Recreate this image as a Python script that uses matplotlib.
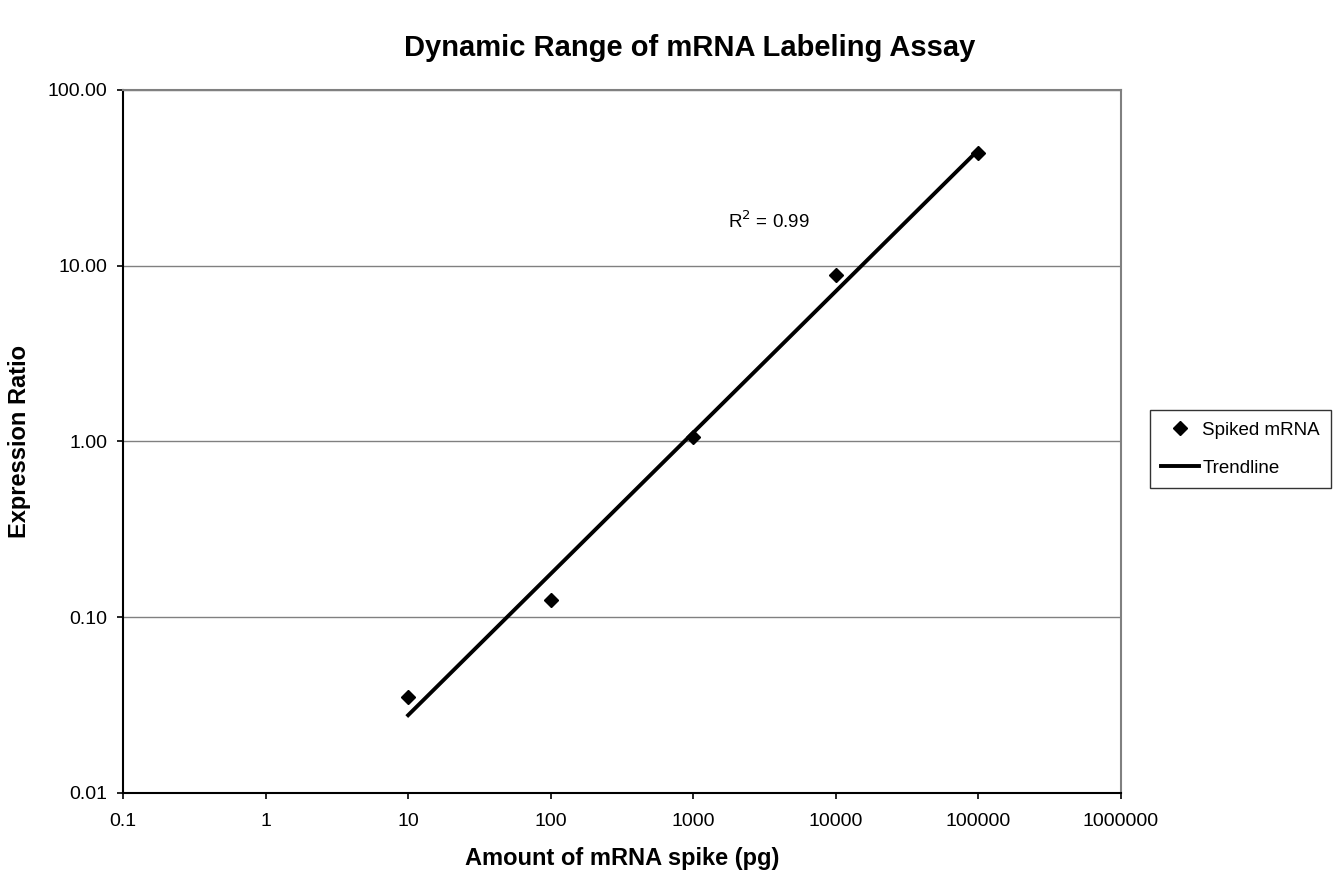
import numpy as np
import matplotlib.pyplot as plt
from matplotlib.ticker import FixedLocator, FixedFormatter, NullLocator

# Data
spike_pg = [10, 100, 1000, 10000, 100000]
expr_ratio = [0.035, 0.125, 1.06, 8.9, 43.5]

x_ticks = [0.1, 1, 10, 100, 1000, 10000, 100000, 1000000]
x_labels = ['0.1', '1', '10', '100', '1000', '10000', '100000', '1000000']
y_ticks = [0.01, 0.1, 1, 10, 100]
y_labels = ['0.01', '0.10', '1.00', '10.00', '100.00']

plt.rcParams['font.family'] = ['Liberation Sans', 'DejaVu Sans']

# Power-law trendline fitted in log space
lx = np.log10(spike_pg)
ly = np.log10(expr_ratio)
slope, intercept = np.polyfit(lx, ly, 1)
trend = 10 ** (intercept + slope * lx)

fig = plt.figure(figsize=(13.44, 8.8), dpi=100)
ax = fig.add_axes([0.0915, 0.0989, 0.7426, 0.7989])

ax.set_xscale('log')
ax.set_yscale('log')
ax.set_xlim(0.1, 1000000)
ax.set_ylim(0.01, 100)

ax.plot(spike_pg, expr_ratio, linestyle='none', marker='D', markersize=7,
        color='black', label='Spiked mRNA', zorder=3)
ax.plot(spike_pg, trend, color='black', linewidth=2.8, label='Trendline', zorder=2)

ax.text(1750, 17.8, r'R$^2$ = 0.99', fontsize=13.5, va='center', ha='left')

ax.xaxis.set_major_locator(FixedLocator(x_ticks))
ax.xaxis.set_major_formatter(FixedFormatter(x_labels))
ax.xaxis.set_minor_locator(NullLocator())
ax.yaxis.set_major_locator(FixedLocator(y_ticks))
ax.yaxis.set_major_formatter(FixedFormatter(y_labels))
ax.yaxis.set_minor_locator(NullLocator())
ax.tick_params(axis='both', direction='out', length=4.5, width=1.2, labelsize=14)
ax.tick_params(axis='x', pad=10)
ax.tick_params(axis='y', pad=7)

ax.yaxis.grid(True, color='#808080', linewidth=1)
ax.set_axisbelow(True)
for s in ['top', 'right']:
    ax.spines[s].set_color('#808080')
    ax.spines[s].set_linewidth(1.5)
for s in ['left', 'bottom']:
    ax.spines[s].set_color('black')
    ax.spines[s].set_linewidth(1.5)

ax.set_xlabel('Amount of mRNA spike (pg)', fontsize=17, fontweight='bold', labelpad=12)
ax.set_ylabel('Expression Ratio', fontsize=17, fontweight='bold', labelpad=12)
fig.text(0.513, 1 - 48 / 880, 'Dynamic Range of mRNA Labeling Assay', fontsize=21,
         fontweight='bold', ha='center', va='center')

leg = ax.legend(loc='center left', bbox_to_anchor=(1.029, 0.489), fontsize=13.5,
                frameon=True, fancybox=False, edgecolor='black', handlelength=2.0,
                borderpad=0.6, labelspacing=1.1, handletextpad=0.2, borderaxespad=0)
leg.get_frame().set_linewidth(1)

fig.savefig('out.png', dpi=100)
